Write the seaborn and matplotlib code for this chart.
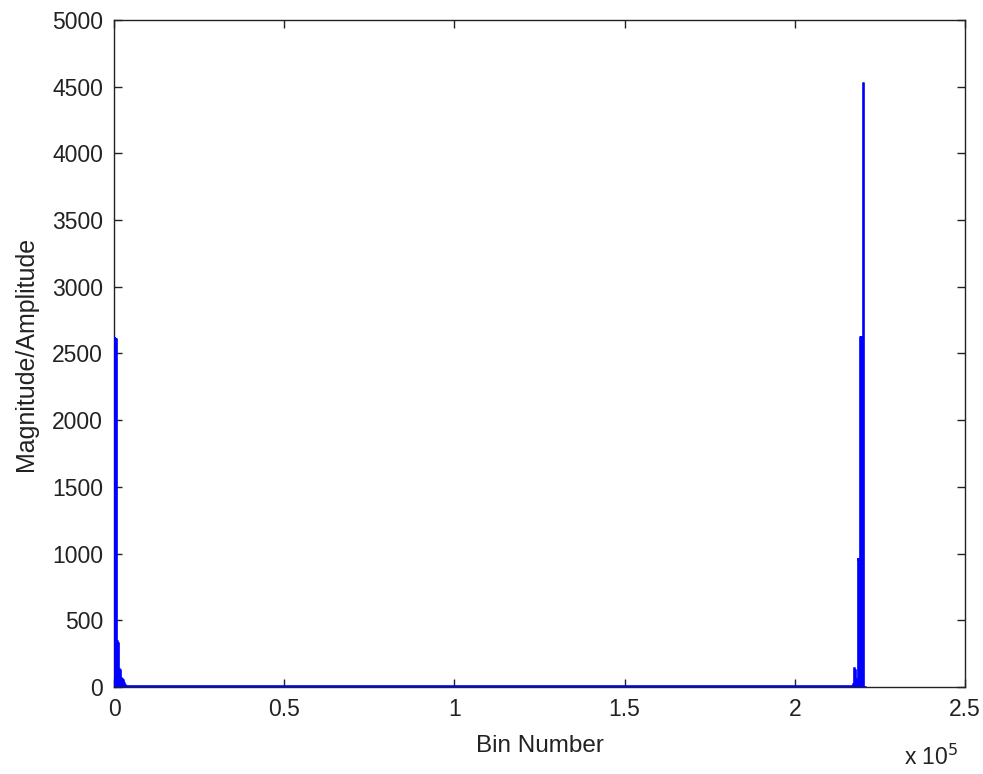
import numpy as np
import pandas as pd
import matplotlib
matplotlib.use("Agg")
import matplotlib.pyplot as plt
import seaborn as sns
from matplotlib.ticker import FuncFormatter

# ---- data ----
bins_left = [0, 100, 200, 300, 400, 500, 600, 700, 800, 900, 1000, 1100, 1200,
             1400, 1600, 1800, 2000, 2300, 2600, 2900, 3200, 3600]
mags_left = [2620, 2610, 2600, 2615, 2590, 2605, 2600, 2610, 2595, 350, 345, 340, 330,
             140, 135, 130, 65, 60, 50, 30, 15, 9]

bins_mid = [5000, 20000, 40000, 60000, 80000, 100000, 120000, 140000, 160000,
            180000, 200000, 215000]
mags_mid = [8, 7, 7, 7, 7, 7, 7, 7, 7, 7, 7, 8]

bins_right = [216800, 217200, 217500, 217700, 217900, 218200, 218500, 218700, 218900,
              219100, 219300, 219500, 219700, 219900, 220000, 220100, 220300, 221000]
mags_right = [9, 20, 140, 130, 60, 60, 960, 955, 960, 2620, 2615, 2620, 2610, 2620,
              2620, 4525, 3, 0]

y_ticks = [0, 500, 1000, 1500, 2000, 2500, 3000, 3500, 4000, 4500, 5000]
x_ticks = [0, 50000, 100000, 150000, 200000, 250000]

df = pd.DataFrame({
    "bin": bins_left + bins_mid + bins_right,
    "mag": mags_left + mags_mid + mags_right,
})

sns.set_theme(style="white")
plt.rcParams["font.family"] = ["Liberation Sans", "DejaVu Sans"]

fig = plt.figure(figsize=(9.83, 7.74), dpi=100)
ax = fig.add_axes([0.116, 0.1124, 0.8657, 0.8618])

sns.lineplot(data=df, x="bin", y="mag", ax=ax, color="#0000ff", linewidth=1.2,
             drawstyle="steps-post", estimator=None, sort=True, zorder=3)
ax.fill_between(df["bin"], df["mag"], step="post", color="#0000ff", linewidth=0, zorder=3)

ax.set_xlim(0, 250000)
ax.set_ylim(0, 5000)
ax.set_xticks(x_ticks)
ax.set_yticks(y_ticks)
ax.xaxis.set_major_formatter(FuncFormatter(lambda v, p: f"{v/1e5:g}"))
ax.yaxis.set_major_formatter(FuncFormatter(lambda v, p: f"{v:g}"))

ax.tick_params(direction="in", length=6, width=1.0, colors="#222222",
               labelsize=16.5, top=True, right=True, bottom=True, left=True,
               labelcolor="#222222", pad=8)
for s in ax.spines.values():
    s.set_visible(True)
    s.set_color("#222222")
    s.set_linewidth(1.0)

ax.set_xlabel("Bin Number", fontsize=17.5, color="#222222", labelpad=10)
ax.set_ylabel("Magnitude/Amplitude", fontsize=18, color="#222222", labelpad=10)
fig.text(0.92, 0.012, r"x 10$^5$", fontsize=16.5, color="#222222")

fig.savefig("out.png", dpi=100, facecolor="white")
